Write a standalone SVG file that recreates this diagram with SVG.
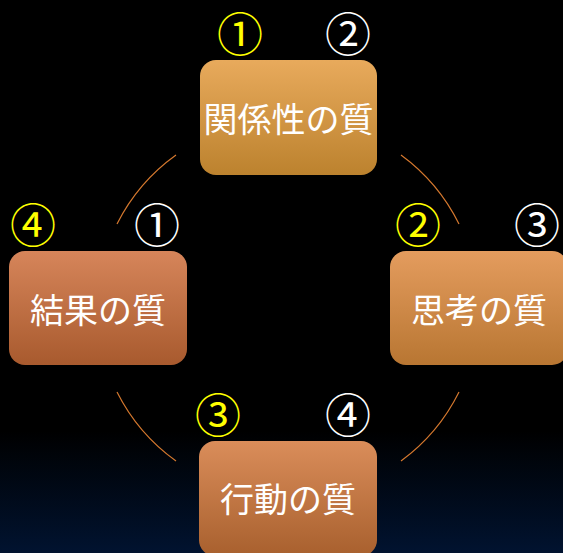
<svg xmlns="http://www.w3.org/2000/svg" width="563" height="553" viewBox="0 0 563 553">
  <defs>
    <linearGradient id="bg" x1="0" y1="0" x2="0" y2="1">
      <stop offset="0" stop-color="#000000"/>
      <stop offset="0.78" stop-color="#000000"/>
      <stop offset="1" stop-color="#011330"/>
    </linearGradient>
    <linearGradient id="gTop" x1="0" y1="0" x2="0" y2="1">
      <stop offset="0" stop-color="#E8AA5C"/>
      <stop offset="1" stop-color="#BC822E"/>
    </linearGradient>
    <linearGradient id="gLeft" x1="0" y1="0" x2="0" y2="1">
      <stop offset="0" stop-color="#D6855A"/>
      <stop offset="1" stop-color="#A85A2E"/>
    </linearGradient>
    <linearGradient id="gRight" x1="0" y1="0" x2="0" y2="1">
      <stop offset="0" stop-color="#E49C5E"/>
      <stop offset="1" stop-color="#B87632"/>
    </linearGradient>
    <linearGradient id="gBottom" x1="0" y1="0" x2="0" y2="1">
      <stop offset="0" stop-color="#DA8D5A"/>
      <stop offset="1" stop-color="#A8602E"/>
    </linearGradient>
  </defs>
  <style>
    .label { font-family: "Noto Sans CJK JP", "Noto Sans", sans-serif; font-size: 34px; fill: #FFFFFF; text-anchor: middle; dominant-baseline: central; }
    .num { font-family: "Noto Sans CJK JP", sans-serif; font-size: 46px; text-anchor: middle; dominant-baseline: central; }
    .y { fill: #FFFF00; }
    .w { fill: #FFFFFF; }
    .arc { fill: none; stroke: #D4782E; stroke-width: 1.2; }
  </style>
  <rect x="0" y="0" width="563" height="553" fill="url(#bg)"/>
  <g id="connectors">
    <path class="arc" d="M117,224 A190,190 0 0 1 176,155"/>
    <path class="arc" d="M401,155 A190,190 0 0 1 459,224"/>
    <path class="arc" d="M459,392 A190,190 0 0 1 401,461"/>
    <path class="arc" d="M176,461 A190,190 0 0 1 117,392"/>
  </g>
  <g id="node-relation">
    <rect x="200" y="60" width="177" height="115" rx="16" fill="url(#gTop)"/>
    <text class="label" x="288.5" y="117">関係性の質</text>
    <text class="num y" x="240" y="31">①</text>
    <text class="num w" x="348" y="31">②</text>
  </g>
  <g id="node-result">
    <rect x="9" y="251" width="178" height="114" rx="16" fill="url(#gLeft)"/>
    <text class="label" x="98" y="308">結果の質</text>
    <text class="num y" x="33" y="222">④</text>
    <text class="num w" x="157" y="222">①</text>
  </g>
  <g id="node-thinking">
    <rect x="390" y="251" width="178" height="114" rx="16" fill="url(#gRight)"/>
    <text class="label" x="479" y="308">思考の質</text>
    <text class="num y" x="418" y="222">②</text>
    <text class="num w" x="537" y="222">③</text>
  </g>
  <g id="node-action">
    <rect x="199" y="441" width="178" height="115" rx="16" fill="url(#gBottom)"/>
    <text class="label" x="288" y="497">行動の質</text>
    <text class="num y" x="218" y="412">③</text>
    <text class="num w" x="348" y="412">④</text>
  </g>
</svg>
